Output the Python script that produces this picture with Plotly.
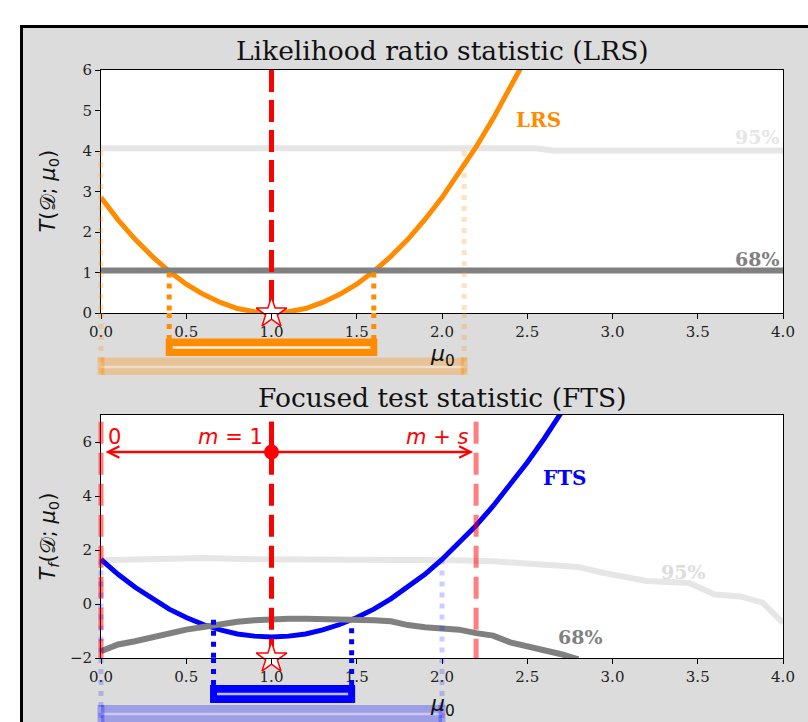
import plotly.graph_objects as go

# ---------------- data ----------------
mu_lrs = [0.0, 0.1, 0.2, 0.3, 0.4, 0.5, 0.6, 0.7, 0.8, 0.9, 1.0, 1.1, 1.2, 1.3,
          1.4, 1.5, 1.6, 1.7, 1.8, 1.9, 2.0, 2.1, 2.2, 2.3, 2.4, 2.5]
lrs_vals = [2.85, 2.30, 1.82, 1.40, 1.03, 0.71, 0.46, 0.26, 0.11, 0.03, 0.0, 0.03,
            0.11, 0.26, 0.46, 0.71, 1.03, 1.40, 1.82, 2.31, 2.85, 3.45, 4.10, 4.80,
            5.55, 6.35]

lrs68_mu = [0.0, 4.0]
lrs68_vals = [1.05, 1.05]
lrs95_mu = [0.0, 1.5, 2.55, 2.65, 4.0]
lrs95_vals = [4.07, 4.08, 4.07, 4.01, 4.01]

mu_fts = [0.0, 0.1, 0.2, 0.3, 0.4, 0.5, 0.6, 0.7, 0.8, 0.9, 1.0, 1.1, 1.2, 1.3,
          1.4, 1.5, 1.6, 1.7, 1.8, 1.9, 2.0, 2.1, 2.2, 2.3, 2.4, 2.5, 2.6, 2.7, 2.8]
fts_vals = [1.65, 1.10, 0.62, 0.19, -0.19, -0.50, -0.76, -0.96, -1.11, -1.19, -1.22,
            -1.19, -1.11, -0.96, -0.76, -0.50, -0.19, 0.19, 0.62, 1.10, 1.65, 2.25,
            2.91, 3.63, 4.41, 5.24, 6.13, 7.07, 8.06]

fts68_mu = [0.0, 0.1, 0.2, 0.3, 0.4, 0.5, 0.6, 0.7, 0.8, 0.9, 1.0, 1.1, 1.2, 1.3,
            1.4, 1.5, 1.6, 1.7, 1.8, 1.9, 2.0, 2.1, 2.2, 2.3, 2.4, 2.5, 2.6, 2.7, 2.8]
fts68_vals = [-1.75, -1.50, -1.38, -1.22, -1.08, -0.95, -0.85, -0.74, -0.66, -0.60,
              -0.56, -0.55, -0.55, -0.55, -0.56, -0.58, -0.60, -0.64, -0.78, -0.86,
              -0.88, -0.95, -1.08, -1.17, -1.42, -1.55, -1.68, -1.86, -2.05]

fts95_mu = [0.0, 0.3, 0.6, 0.9, 1.2, 1.5, 1.8, 2.1, 2.3, 2.5, 2.8, 2.95, 3.2, 3.45,
            3.6, 3.75, 3.88, 4.0]
fts95_vals = [1.62, 1.66, 1.70, 1.66, 1.66, 1.66, 1.65, 1.62, 1.58, 1.48, 1.37, 1.15,
              0.85, 0.78, 0.35, 0.28, 0.05, -0.70]

m_obs = 1.0          # observed m
m_plus_s = 2.2       # m + s
zero_ref = 0.0
arrow_level = 5.63
ref_text_level = 6.2

lrs_int68 = [0.40, 1.60]
lrs_int68_top = [1.0, 1.0]
lrs_int95 = [0.0, 2.13]
lrs_int95_top = [4.0, 4.0]
fts_int68 = [0.66, 1.47]
fts_int68_top = [-0.58, -0.90]
fts_int95 = [0.0, 2.0]
fts_int95_top = [1.65, 1.65]

x_ticks = [0.0, 0.5, 1.0, 1.5, 2.0, 2.5, 3.0, 3.5, 4.0]
x_ticktext = ["0.0", "0.5", "1.0", "1.5", "2.0", "2.5", "3.0", "3.5", "4.0"]
y1_ticks = [0, 1, 2, 3, 4, 5, 6]
y1_ticktext = ["0", "1", "2", "3", "4", "5", "6"]
y2_ticks = [-2, 0, 2, 4, 6]
y2_ticktext = ["\u22122", "0", "2", "4", "6"]

X_RANGE = [0.0, 4.0]
Y1_RANGE = [0.0, 6.0]
Y2_RANGE = [-2.0, 7.0]

# ---------------- styling ----------------
SERIF = "DejaVu Serif, serif"
MATH = "DejaVu Sans, sans-serif"
ORANGE = "#ff8c00"
ORANGE_F = "rgba(255,140,0,0.3)"
ORANGE_DOT_F = "rgba(255,140,0,0.25)"
BLUE = "#0000ff"
BLUE_F = "rgba(0,0,255,0.28)"
BLUE_DOT_F = "rgba(0,0,255,0.2)"
GRAY68 = "#808080"
GRAY95 = "rgb(230,230,230)"
RED = "#ff0000"
RED_F = "rgba(255,0,0,0.5)"
PANEL = "#dcdcdc"

fig = go.Figure()

# ---------------- top panel (LRS) ----------------
fig.add_trace(go.Scatter(x=lrs95_mu, y=lrs95_vals, mode="lines", xaxis="x", yaxis="y",
                         line=dict(color=GRAY95, width=6), hoverinfo="skip"))
fig.add_trace(go.Scatter(x=mu_lrs, y=lrs_vals, mode="lines", xaxis="x", yaxis="y",
                         line=dict(color=ORANGE, width=5), hoverinfo="skip"))
fig.add_trace(go.Scatter(x=lrs68_mu, y=lrs68_vals, mode="lines", xaxis="x", yaxis="y",
                         line=dict(color=GRAY68, width=6), hoverinfo="skip"))
fig.add_trace(go.Scatter(x=[m_obs, m_obs], y=[Y1_RANGE[1], Y1_RANGE[0]], mode="lines",
                         xaxis="x", yaxis="y",
                         line=dict(color=RED, width=5, dash="22px,8px"), hoverinfo="skip"))
fig.add_trace(go.Scatter(x=[m_obs], y=[Y1_RANGE[0]], mode="markers", xaxis="x", yaxis="y",
                         marker=dict(symbol="star", size=23, color="white",
                                     line=dict(color=RED, width=1.5)),
                         cliponaxis=False, hoverinfo="skip"))

# ---------------- bottom panel (FTS) ----------------
fig.add_trace(go.Scatter(x=fts95_mu, y=fts95_vals, mode="lines", xaxis="x2", yaxis="y2",
                         line=dict(color=GRAY95, width=6), hoverinfo="skip"))
fig.add_trace(go.Scatter(x=mu_fts, y=fts_vals, mode="lines", xaxis="x2", yaxis="y2",
                         line=dict(color=BLUE, width=5), hoverinfo="skip"))
fig.add_trace(go.Scatter(x=fts68_mu, y=fts68_vals, mode="lines", xaxis="x2", yaxis="y2",
                         line=dict(color=GRAY68, width=6), hoverinfo="skip"))
fig.add_trace(go.Scatter(x=[m_obs, m_obs], y=[6.75, Y2_RANGE[0]], mode="lines",
                         xaxis="x2", yaxis="y2",
                         line=dict(color=RED, width=5, dash="22px,9px"), hoverinfo="skip"))
fig.add_trace(go.Scatter(x=[m_obs, m_obs], y=[6.75, 4.9], mode="lines",
                         xaxis="x2", yaxis="y2",
                         line=dict(color=RED, width=5), hoverinfo="skip"))
fig.add_trace(go.Scatter(x=[m_obs], y=[arrow_level], mode="markers", xaxis="x2", yaxis="y2",
                         marker=dict(symbol="circle", size=15, color=RED),
                         cliponaxis=False, hoverinfo="skip"))
fig.add_trace(go.Scatter(x=[m_obs], y=[Y2_RANGE[0]], mode="markers", xaxis="x2", yaxis="y2",
                         marker=dict(symbol="star", size=23, color="white",
                                     line=dict(color=RED, width=1.5)),
                         cliponaxis=False, hoverinfo="skip"))

shapes = []


def xref_of(v, ax):
    """Lines at the left edge of the axis are referenced to the axis domain so
    that they are not clipped in half."""
    if v <= X_RANGE[0]:
        return ax + " domain", 0.0
    return ax, v


def vline(v, ax, yref, y0, y1, color, width, dash, layer="above"):
    xr, xv = xref_of(v, ax)
    shapes.append(dict(type="line", xref=xr, yref=yref, x0=xv, x1=xv, y0=y0, y1=y1,
                       line=dict(color=color, width=width, dash=dash), layer=layer))


def bracket(lo, hi, ax, ydom, y_top, y_bot, y_mid, color, inner):
    xr0, xv0 = xref_of(lo, ax)
    xr1, xv1 = xref_of(hi, ax)
    shapes.append(dict(type="rect", xref=ax, yref=ydom, x0=lo, x1=hi, y0=y_bot, y1=y_top,
                       fillcolor=color, line=dict(width=0), layer="above"))
    shapes.append(dict(type="line", xref=ax, yref=ydom, x0=lo, x1=hi, y0=y_mid, y1=y_mid,
                       line=dict(color=inner, width=2.5), layer="above"))
    shapes.append(dict(type="line", xref=xr0, yref=ydom, x0=xv0, x1=xv0, y0=y_bot, y1=y_top,
                       line=dict(color=color, width=7), layer="above"))
    shapes.append(dict(type="line", xref=xr1, yref=ydom, x0=xv1, x1=xv1, y0=y_bot, y1=y_top,
                       line=dict(color=color, width=7), layer="above"))


DOT = "5px,6px"
for v, t in zip(lrs_int68, lrs_int68_top):
    vline(v, "x", "y", t, Y1_RANGE[0], ORANGE, 5, DOT)
    vline(v, "x", "y domain", 0, -0.107, ORANGE, 5, DOT)
for v, t in zip(lrs_int95, lrs_int95_top):
    vline(v, "x", "y", t, Y1_RANGE[0], ORANGE_DOT_F, 5, DOT)
    vline(v, "x", "y domain", 0, -0.255, ORANGE_DOT_F, 5, DOT)
bracket(lrs_int68[0], lrs_int68[1], "x", "y domain", -0.105, -0.177, -0.142,
        ORANGE, "rgba(255,255,255,0.9)")
bracket(lrs_int95[0], lrs_int95[1], "x", "y domain", -0.183, -0.255, -0.222,
        ORANGE_F, "rgba(255,255,255,0.45)")

for v in [zero_ref, m_plus_s]:
    vline(v, "x2", "y2", 6.75, Y2_RANGE[0], RED_F, 5, "22px,9px")
for v, t in zip(fts_int68, fts_int68_top):
    vline(v, "x2", "y2", t, Y2_RANGE[0], BLUE, 5, DOT)
    vline(v, "x2", "y2 domain", 0, -0.111, BLUE, 5, DOT)
for v, t in zip(fts_int95, fts_int95_top):
    vline(v, "x2", "y2", t, Y2_RANGE[0], BLUE_DOT_F, 5, DOT)
    vline(v, "x2", "y2 domain", 0, -0.267, BLUE_DOT_F, 5, DOT)
bracket(fts_int68[0], fts_int68[1], "x2", "y2 domain", -0.111, -0.185, -0.148,
        BLUE, "rgba(255,255,255,0.75)")
bracket(fts_int95[0], fts_int95[1], "x2", "y2 domain", -0.193, -0.27, -0.23,
        BLUE_F, "rgba(255,255,255,0.45)")

# figure frame: grey panel with black top/left border (paper background is grey)
L, R = 101, 25
T, B = 70, 64
W, H = 808, 722
pw, ph = W - L - R, H - T - B
px = lambda p: (p - L) / pw
py = lambda p: 1 - (p - T) / ph
shapes.append(dict(type="rect", xref="paper", yref="paper", x0=px(-5), x1=px(W + 5),
                   y0=py(25), y1=py(-5), fillcolor="white", line=dict(width=0), layer="below"))
shapes.append(dict(type="rect", xref="paper", yref="paper", x0=px(-5), x1=px(20),
                   y0=py(H + 5), y1=py(-5), fillcolor="white", line=dict(width=0), layer="below"))
shapes.append(dict(type="line", xref="paper", yref="paper", x0=px(21.5), x1=px(21.5),
                   y0=py(25), y1=py(H + 5), line=dict(color="black", width=3), layer="below"))
shapes.append(dict(type="line", xref="paper", yref="paper", x0=px(20), x1=px(W + 5),
                   y0=py(26.5), y1=py(26.5), line=dict(color="black", width=3), layer="below"))

annotations = []


def note(text, xref, x, yref, y, size, color, family=SERIF, xanchor="center",
         yanchor="middle", xshift=0, yshift=0, angle=0):
    annotations.append(dict(text=text, xref=xref, x=x, yref=yref, y=y, showarrow=False,
                            font=dict(family=family, size=size, color=color),
                            xanchor=xanchor, yanchor=yanchor, xshift=xshift,
                            yshift=yshift, textangle=angle))


# titles
note("Likelihood ratio statistic (LRS)", "x domain", 0.5, "y domain", 1, 26.5, "#111",
     yshift=20)
note("Focused test statistic (FTS)", "x2 domain", 0.5, "y2 domain", 1, 26.5, "#111",
     yshift=18)
# axis titles
note("<i>μ</i><sub>0</sub>", "x domain", 0.5, "y domain", 0, 22, "#111", family=MATH,
     yshift=-42)
note("<i>μ</i><sub>0</sub>", "x2 domain", 0.5, "y2 domain", 0, 22, "#111", family=MATH,
     yshift=-47)
note("<i>T</i>(𝒟; <i>μ</i><sub>0</sub>)", "x domain", 0, "y domain", 0.5, 21, "#111",
     family=MATH, xshift=-53, angle=-90)
note("<i>T<sub>f</sub></i>(𝒟; <i>μ</i><sub>0</sub>)", "x2 domain", 0, "y2 domain", 0.5,
     21, "#111", family=MATH, xshift=-53, angle=-90)
# curve labels
note("<b>LRS</b>", "x", 2.42, "y", 4.77, 20, ORANGE, xanchor="left")
note("<b>FTS</b>", "x2", 2.58, "y2", 4.67, 20, BLUE, xanchor="left")
note("<b>95%</b>", "x", 4.0, "y", 4.35, 19, "#e6e6e6", xanchor="right", xshift=-1)
note("<b>68%</b>", "x", 4.0, "y", 1.33, 19, GRAY68, xanchor="right", xshift=-1)
note("<b>95%</b>", "x2", 3.27, "y2", 1.19, 19, "#dddddd", xanchor="left")
note("<b>68%</b>", "x2", 2.67, "y2", -1.22, 19, GRAY68, xanchor="left")
# reference labels
note("0", "x2", zero_ref, "y2", ref_text_level, 21, RED, family=MATH, xanchor="left",
     xshift=5)
note("<i>m</i> = 1", "x2", m_obs, "y2", ref_text_level, 21, RED, family=MATH,
     xanchor="right", xshift=-7)
note("<i>m</i> + <i>s</i>", "x2", m_plus_s, "y2", ref_text_level, 21, RED, family=MATH,
     xanchor="right", xshift=-6)
# double-headed arrow from 0 to m+s
annotations.append(dict(text="", x=m_plus_s, y=arrow_level, ax=zero_ref, ay=arrow_level,
                        xref="x2", yref="y2", axref="x2", ayref="y2", showarrow=True,
                        arrowside="end+start", arrowhead=5, startarrowhead=5,
                        arrowsize=0.9, startarrowsize=0.9, arrowwidth=2.5,
                        arrowcolor=RED, standoff=3, startstandoff=3))

axis_common = dict(range=X_RANGE, tickvals=x_ticks, ticktext=x_ticktext, showgrid=False,
                   zeroline=False, showline=True, mirror=True, linecolor="black",
                   linewidth=1, ticks="outside", ticklen=5, tickcolor="black",
                   tickfont=dict(family=SERIF, size=15, color="#222"))
yaxis_common = dict(showgrid=False, zeroline=False, showline=True, mirror=True,
                    linecolor="black", linewidth=1, ticks="outside", ticklen=5,
                    tickcolor="black", tickfont=dict(family=SERIF, size=15, color="#222"))

top_dom = [1 - (313 - T) / ph, 1.0]
bot_dom = [0.0, 1 - (415 - T) / ph]

fig.update_layout(
    width=W, height=H,
    margin=dict(l=L, r=R, t=T, b=B),
    paper_bgcolor=PANEL, plot_bgcolor="white",
    showlegend=False,
    xaxis=dict(domain=[0, 1], anchor="y", **axis_common),
    yaxis=dict(domain=top_dom, anchor="x", range=Y1_RANGE, tickvals=y1_ticks,
               ticktext=y1_ticktext, **yaxis_common),
    xaxis2=dict(domain=[0, 1], anchor="y2", **axis_common),
    yaxis2=dict(domain=bot_dom, anchor="x2", range=Y2_RANGE, tickvals=y2_ticks,
                ticktext=y2_ticktext, **yaxis_common),
    shapes=shapes,
    annotations=annotations,
)

fig.write_html("out.html")
